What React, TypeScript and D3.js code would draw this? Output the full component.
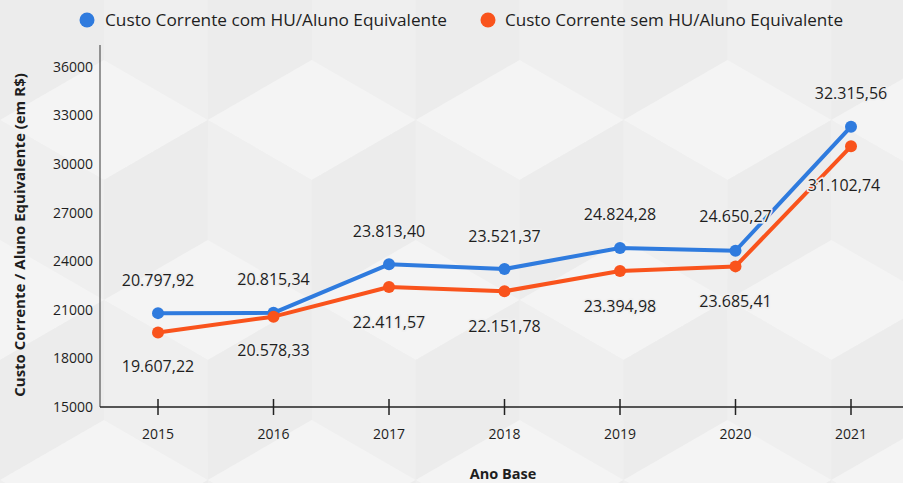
import React from "react";
import * as d3 from "d3";

const years = ["2015", "2016", "2017", "2018", "2019", "2020", "2021"];
const comHU = [20797.92, 20815.34, 23813.4, 23521.37, 24824.28, 24650.27, 32315.56];
const semHU = [19607.22, 20578.33, 22411.57, 22151.78, 23394.98, 23685.41, 31102.74];
const yTicks = [15000, 18000, 21000, 24000, 27000, 30000, 33000, 36000];
const seriesNames = ["Custo Corrente com HU/Aluno Equivalente", "Custo Corrente sem HU/Aluno Equivalente"];

const W = 903, H = 483;
const BLUE = "#2F7BDE";
const ORANGE = "#F9531C";
const BG = "#efefef";
const FONT = "'Open Sans', sans-serif";

// label offsets (layout only)
const blueDy = [-33, -33, -33, -33, -34, -34, -33];
const orangeDy = [34, 34, 35, 35, 35, 35, 39];
const orangeDx = [0, 0, 0, 0, 0, 0, -7];

const fmt = (v: number) => {
  const s = v.toFixed(2).split(".");
  return s[0].replace(/\B(?=(\d{3})+(?!\d))/g, ".") + "," + s[1];
};

function Background() {
  const side = 120;
  const h = side * Math.sqrt(3) / 2;
  const polys: { pts: string; fill: string }[] = [];
  const shades = ["#f4f4f4", "#efefef", "#ececec"];
  for (let r = -1; r < 4; r++) {
    for (let c = -1; c < 6; c++) {
      const cx = c * 2 * h + (r % 2 ? h : 0);
      const cy = r * side * 1.5;
      const top = [cx, cy - side];
      const ur = [cx + h, cy - side / 2];
      const lr = [cx + h, cy + side / 2];
      const bot = [cx, cy + side];
      const ll = [cx - h, cy + side / 2];
      const ul = [cx - h, cy - side / 2];
      const ctr = [cx, cy];
      const p = (a: number[][]) => a.map((q) => q.join(",")).join(" ");
      polys.push({ pts: p([top, ur, ctr, ul]), fill: shades[0] });
      polys.push({ pts: p([ul, ctr, bot, ll]), fill: shades[1] });
      polys.push({ pts: p([ctr, ur, lr, bot]), fill: shades[2] });
    }
  }
  return (
    <g>
      <rect width={W} height={H} fill={BG} />
      {polys.map((d, i) => (
        <polygon key={i} points={d.pts} fill={d.fill} />
      ))}
    </g>
  );
}

export default function App() {
  const x = d3.scalePoint<string>().domain(years).range([158, 851]);
  const y = d3.scaleLinear().domain([15000, 36000]).range([407, 67]);
  const line = d3
    .line<number>()
    .x((_, i) => x(years[i]) as number)
    .y((d) => y(d))
    .curve(d3.curveLinear);

  const series = [
    { vals: comHU, color: BLUE, dy: blueDy, dx: [0, 0, 0, 0, 0, 0, 0] },
    { vals: semHU, color: ORANGE, dy: orangeDy, dx: orangeDx },
  ];

  return (
    <svg width={W} height={H} style={{ position: "absolute", left: 0, top: 0 }}>
      <Background />
      {/* legend */}
      <g fontFamily={FONT} fontSize={16.8} fill="#1e1e1e">
        <circle cx={87} cy={20} r={7.5} fill={BLUE} />
        <text x={105} y={20} dy="0.35em" textLength={342} lengthAdjust="spacingAndGlyphs">{seriesNames[0]}</text>
        <circle cx={488} cy={20} r={7.5} fill={ORANGE} />
        <text x={505} y={20} dy="0.35em" textLength={338} lengthAdjust="spacingAndGlyphs">{seriesNames[1]}</text>
      </g>
      {/* axes */}
      <line x1={100} x2={100} y1={45} y2={407} stroke="#555" strokeWidth={1.2} />
      <line x1={100} x2={W} y1={407} y2={407} stroke="#222" strokeWidth={1.5} />
      {years.map((yr) => (
        <g key={yr}>
          <line x1={x(yr)} x2={x(yr)} y1={399} y2={415} stroke="#222" strokeWidth={1.5} />
          <text x={x(yr)} y={434} textAnchor="middle" dy="0.35em" fontFamily={FONT} fontSize={14} fill="#1e1e1e">
            {yr}
          </text>
        </g>
      ))}
      {yTicks.map((t) => (
        <text key={t} x={93} y={y(t)} textAnchor="end" dy="0.35em" fontFamily={FONT} fontSize={14} fill="#1e1e1e">
          {t}
        </text>
      ))}
      <text
        transform={`translate(20,${235}) rotate(-90)`}
        textAnchor="middle"
        dy="0.35em"
        fontFamily={FONT}
        fontSize={15}
        fontWeight="bold"
        fill="#1e1e1e"
      >
        Custo Corrente / Aluno Equivalente (em R$)
      </text>
      <text x={503} y={474} textAnchor="middle" dy="0.35em" fontFamily={FONT} fontSize={14.5} fontWeight="bold" fill="#1e1e1e">
        Ano Base
      </text>
      {/* lines */}
      {series.map((s, si) => (
        <g key={si}>
          <path d={line(s.vals) || ""} fill="none" stroke={s.color} strokeWidth={4} strokeLinejoin="round" />
          {s.vals.map((v, i) => (
            <circle key={i} cx={x(years[i])} cy={y(v)} r={6} fill={s.color} />
          ))}
        </g>
      ))}
      {/* labels */}
      {series.map((s, si) => (
        <g key={"l" + si}>
          {s.vals.map((v, i) => (
            <text
              key={i}
              x={(x(years[i]) as number) + s.dx[i]}
              y={y(v) + s.dy[i]}
              textAnchor="middle"
              dy="0.35em"
              fontFamily={FONT}
              fontSize={16}
              fill="#1e1e1e"
              stroke={BG}
              strokeWidth={3}
              paintOrder="stroke"
            >
              {fmt(v)}
            </text>
          ))}
        </g>
      ))}
    </svg>
  );
}
